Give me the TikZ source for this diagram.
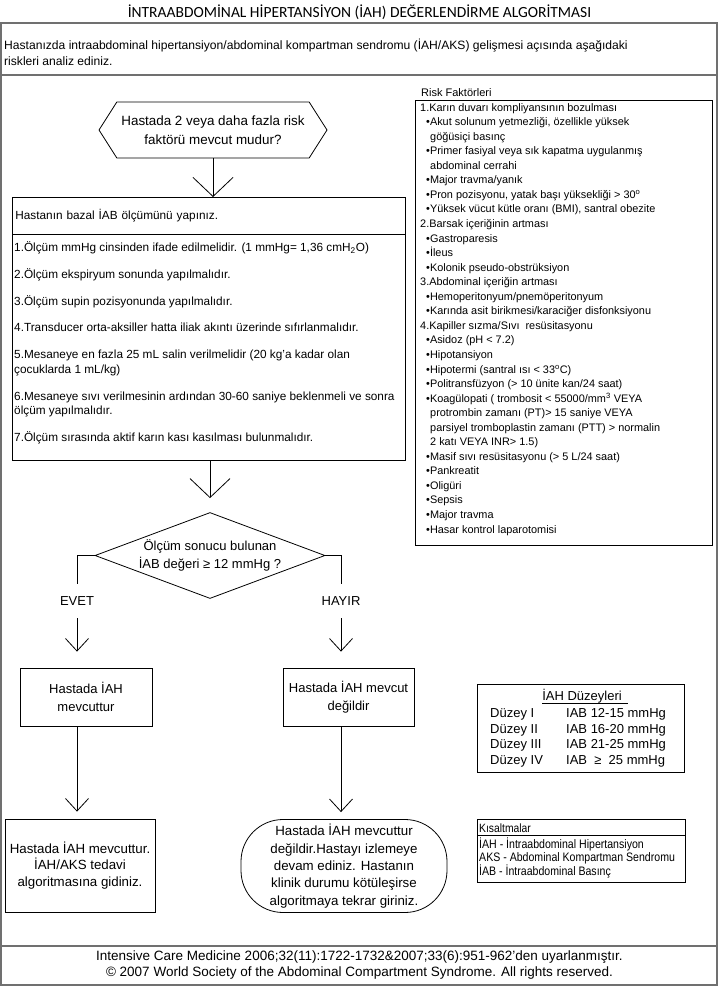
\documentclass[tikz,border=0pt]{standalone}
\usepackage{fontspec}
\setmainfont{Liberation Sans}
\newfontfamily\baslikfont{Carlito}
\newfontfamily\darfont[FakeStretch=0.86]{Liberation Sans}
\usepackage{tikz}
\usetikzlibrary{arrows.meta,positioning,calc,shapes.geometric,shapes.symbols}
\definecolor{cerceve}{RGB}{112,112,112}
\newcommand{\madde}{\hspace*{6pt}•}
\newcommand{\devam}{\hspace*{10pt}}
\tikzset{
  base/.style={font=\fontsize{13}{17.5}\selectfont, align=center, inner sep=2pt, text=black},
  kutu/.style={base, rectangle, draw=black, line width=0.8pt},
  son/.style={kutu, font=\fontsize{13.3}{16.5}\selectfont},
  altigen/.style={base, signal, signal to=west and east, signal pointer angle=115, draw=black, line width=0.8pt, minimum width=228pt, minimum height=56pt, font=\fontsize{13.4}{19}\selectfont},
  karar/.style={base, diamond, aspect=2.67, draw=black, line width=0.8pt, minimum width=230pt, minimum height=86pt, inner sep=0pt},
  liste/.style={align=left, inner sep=0pt, anchor=north west},
  ok/.style={-{Straight Barb[length=19pt,width=40pt]}, line width=0.8pt, draw=black},
  okk/.style={-{Straight Barb[length=12.5pt,width=23pt]}, line width=0.8pt, draw=black},
  cizgi/.style={line width=0.8pt, draw=black},
  etiket/.style={base, minimum height=34pt, inner sep=0pt},
  cer/.style={draw=cerceve, line width=1.6pt},
}
\begin{document}
\begin{tikzpicture}[x=1pt,y=-1pt]
  \useasboundingbox (0,0) rectangle (719,987);
  % baslik, giris ve dis cerceve
  \node[font=\baslikfont\fontsize{15.5}{17}\selectfont] (baslik) at (359.5,12) {İNTRAABDOMİNAL HİPERTANSİYON (İAH) DEĞERLENDİRME ALGORİTMASI};
  \draw[cer] (1,23) rectangle (717,985);
  \draw[cer] (1,75) -- (717,75);
  \draw[cer] (1,946) -- (717,946);
  \node[liste, font=\fontsize{12.1}{16}\selectfont] (giris) at (4,39) {Hastanızda intraabdominal hipertansiyon/abdominal kompartman sendromu (İAH/AKS) gelişmesi açısında aşağıdaki\\riskleri analiz ediniz.};

  % risk faktorleri
  \node[draw=black, line width=0.8pt, minimum width=297pt, minimum height=445pt, anchor=north west, inner sep=0pt] (riskkutu) at (415,100) {};
  \node[font=\fontsize{11}{13}\selectfont, anchor=base west, inner sep=0pt] (riskbas) at (421,97) {Risk Faktörleri};
  \node[liste, font=\fontsize{10.9}{14.55}\selectfont] (risk) at (420,103) {1.Karın duvarı kompliyansının bozulması\\
    \madde Akut solunum yetmezliği, özellikle yüksek\\
    \devam göğüsiçi basınç\\
    \madde Primer fasiyal veya sık kapatma uygulanmış\\
    \devam abdominal cerrahi\\
    \madde Major travma/yanık\\
    \madde Pron pozisyonu, yatak başı yüksekliği > 30\textsuperscript{o}\\
    \madde Yüksek vücut kütle oranı (BMI), santral obezite\\
    2.Barsak içeriğinin artması\\
    \madde Gastroparesis\\
    \madde İleus\\
    \madde Kolonik pseudo-obstrüksiyon\\
    3.Abdominal içeriğin artması\\
    \madde Hemoperitonyum/pnemöperitonyum\\
    \madde Karında asit birikmesi/karaciğer disfonksiyonu\\
    4.Kapiller sızma/Sıvı\ \ resüsitasyonu\\
    \madde Asidoz (pH < 7.2)\\
    \madde Hipotansiyon\\
    \madde Hipotermi (santral ısı < 33\textsuperscript{o}C)\\
    \madde Politransfüzyon (> 10 ünite kan/24 saat)\\
    \madde Koagülopati ( trombosit < 55000/mm\textsuperscript{3} VEYA\\
    \devam protrombin zamanı (PT)> 15 saniye VEYA\\
    \devam parsiyel tromboplastin zamanı (PTT) > normalin\\
    \devam 2 katı VEYA INR> 1.5)\\
    \madde Masif sıvı resüsitasyonu (> 5 L/24 saat)\\
    \madde Pankreatit\\
    \madde Oligüri\\
    \madde Sepsis\\
    \madde Major travma\\
    \madde Hasar kontrol laparotomisi};

  % akis
  \node[altigen] (soru1) at (213,130) {Hastada 2 veya daha fazla risk\\faktörü mevcut mudur?};
  \node[kutu, minimum width=393pt, minimum height=37pt, anchor=north west, text width=387pt, align=left, font=\fontsize{11.8}{14.5}\selectfont] (bazal) at (12,197) {Hastanın bazal İAB ölçümünü yapınız.};
  \node[kutu, minimum width=393pt, minimum height=226pt, anchor=north west] (olcum) at (12,234) {};
  \node[liste, font=\fontsize{11.8}{14.5}\selectfont] (olcumyazi) at (14,241.5) {1.Ölçüm mmHg cinsinden ifade edilmelidir. (1 mmHg= 1,36 cmH\textsubscript{2}O)\\[12.3pt]
    2.Ölçüm ekspiryum sonunda yapılmalıdır.\\[12.3pt]
    3.Ölçüm supin pozisyonunda yapılmalıdır.\\[12.3pt]
    4.Transducer orta-aksiller hatta iliak akıntı üzerinde sıfırlanmalıdır.\\[12.3pt]
    5.Mesaneye en fazla 25 mL salin verilmelidir (20 kg'a kadar olan\\
    çocuklarda 1 mL/kg)\\[12.3pt]
    6.Mesaneye sıvı verilmesinin ardından 30-60 saniye beklenmeli ve sonra\\
    ölçüm yapılmalıdır.\\[12.3pt]
    7.Ölçüm sırasında aktif karın kası kasılması bulunmalıdır.};
  \draw[ok] (soru1.south) -- (soru1.south |- bazal.north);

  \node[karar] (soru2) at (210,555.5) {Ölçüm sonucu bulunan\\İAB değeri ≥ 12 mmHg ?};
  \draw[ok, shorten >=14pt] (soru2.north |- olcum.south) -- (soru2.north);

  \node[etiket] (evet) at (77,601) {EVET};
  \node[etiket] (hayir) at (341,601) {HAYIR};
  \node[kutu, minimum width=132pt, minimum height=58pt] (sol1) at (86,697) {Hastada İAH\\mevcuttur};
  \node[kutu, minimum width=131pt, minimum height=58pt] (sag1) at (348.5,697) {Hastada İAH mevcut\\değildir};
  \draw[cizgi] (soru2.west) -| (evet.north);
  \draw[cizgi] (soru2.east) -| (hayir.north);
  \draw[okk, shorten >=16pt] (evet.south) -- (evet.south |- sol1.north);
  \draw[okk, shorten >=16pt] (hayir.south) -- (hayir.south |- sag1.north);

  \node[son, minimum width=150pt, minimum height=93pt] (sol2) at (80,865.5) {Hastada İAH mevcuttur.\\İAH/AKS tedavi\\algoritmasına gidiniz.};
  \node[son, rounded corners=42pt, minimum width=206pt, minimum height=93pt, font=\fontsize{13.3}{17.3}\selectfont] (sag2) at (344,866) {Hastada İAH mevcuttur\\değildir.Hastayı izlemeye\\devam ediniz. Hastanın\\klinik durumu kötüleşirse\\algoritmaya tekrar giriniz.};
  \draw[okk, shorten >=7pt] (sol1.south -| evet) -- (sol2.north -| evet);
  \draw[okk, shorten >=7pt] (sag1.south -| hayir) -- (sag2.north -| hayir);

  % IAH duzeyleri
  \node[kutu, minimum width=207pt, minimum height=88pt, anchor=north west] (duzey) at (477,684) {};
  \node[font=\fontsize{13}{15}\selectfont, inner sep=0pt, anchor=base] (duzeybas) at (582,700.5) {İAH Düzeyleri};
  \draw[cizgi] (duzeybas.south west) -- ([xshift=6pt]duzeybas.south east);
  \foreach \i/\d/\v in {1/I/{IAB 12-15 mmHg},2/II/{IAB 16-20 mmHg},3/III/{IAB 21-25 mmHg},4/IV/{IAB\ \ ≥\ \ 25 mmHg}}{
    \node[font=\fontsize{13}{15}\selectfont, inner sep=0pt, anchor=base west] (d\i) at (490,{702.1+15.6*\i}) {Düzey \d};
    \node[font=\fontsize{13}{15}\selectfont, inner sep=0pt, anchor=base west] (v\i) at (566,{702.1+15.6*\i}) {\v};
  }

  % kisaltmalar
  \node[kutu, minimum width=208pt, minimum height=63pt, anchor=north west] (kisa) at (477,819) {};
  \node[font=\darfont\fontsize{12}{12.3}\selectfont, inner sep=0pt, anchor=base west] (kisabas) at (479,832) {Kısaltmalar};
  \draw[cizgi] ([yshift=-16pt]kisa.north west) -- ([yshift=-16pt]kisa.north east);
  \node[liste, font=\darfont\fontsize{12.3}{12.3}\selectfont] (kisayazi) at (479,838) {İAH - İntraabdominal Hipertansiyon\\AKS - Abdominal Kompartman Sendromu\\İAB - İntraabdominal Basınç};

  % kaynak
  \node[font=\fontsize{13.5}{16}\selectfont, align=center, inner sep=0pt] (kaynak) at (359.5,964.5) {Intensive Care Medicine 2006;32(11):1722-1732\&2007;33(6):951-962'den uyarlanmıştır.\\© 2007 World Society of the Abdominal Compartment Syndrome. All rights reserved.};
\end{tikzpicture}
\end{document}
